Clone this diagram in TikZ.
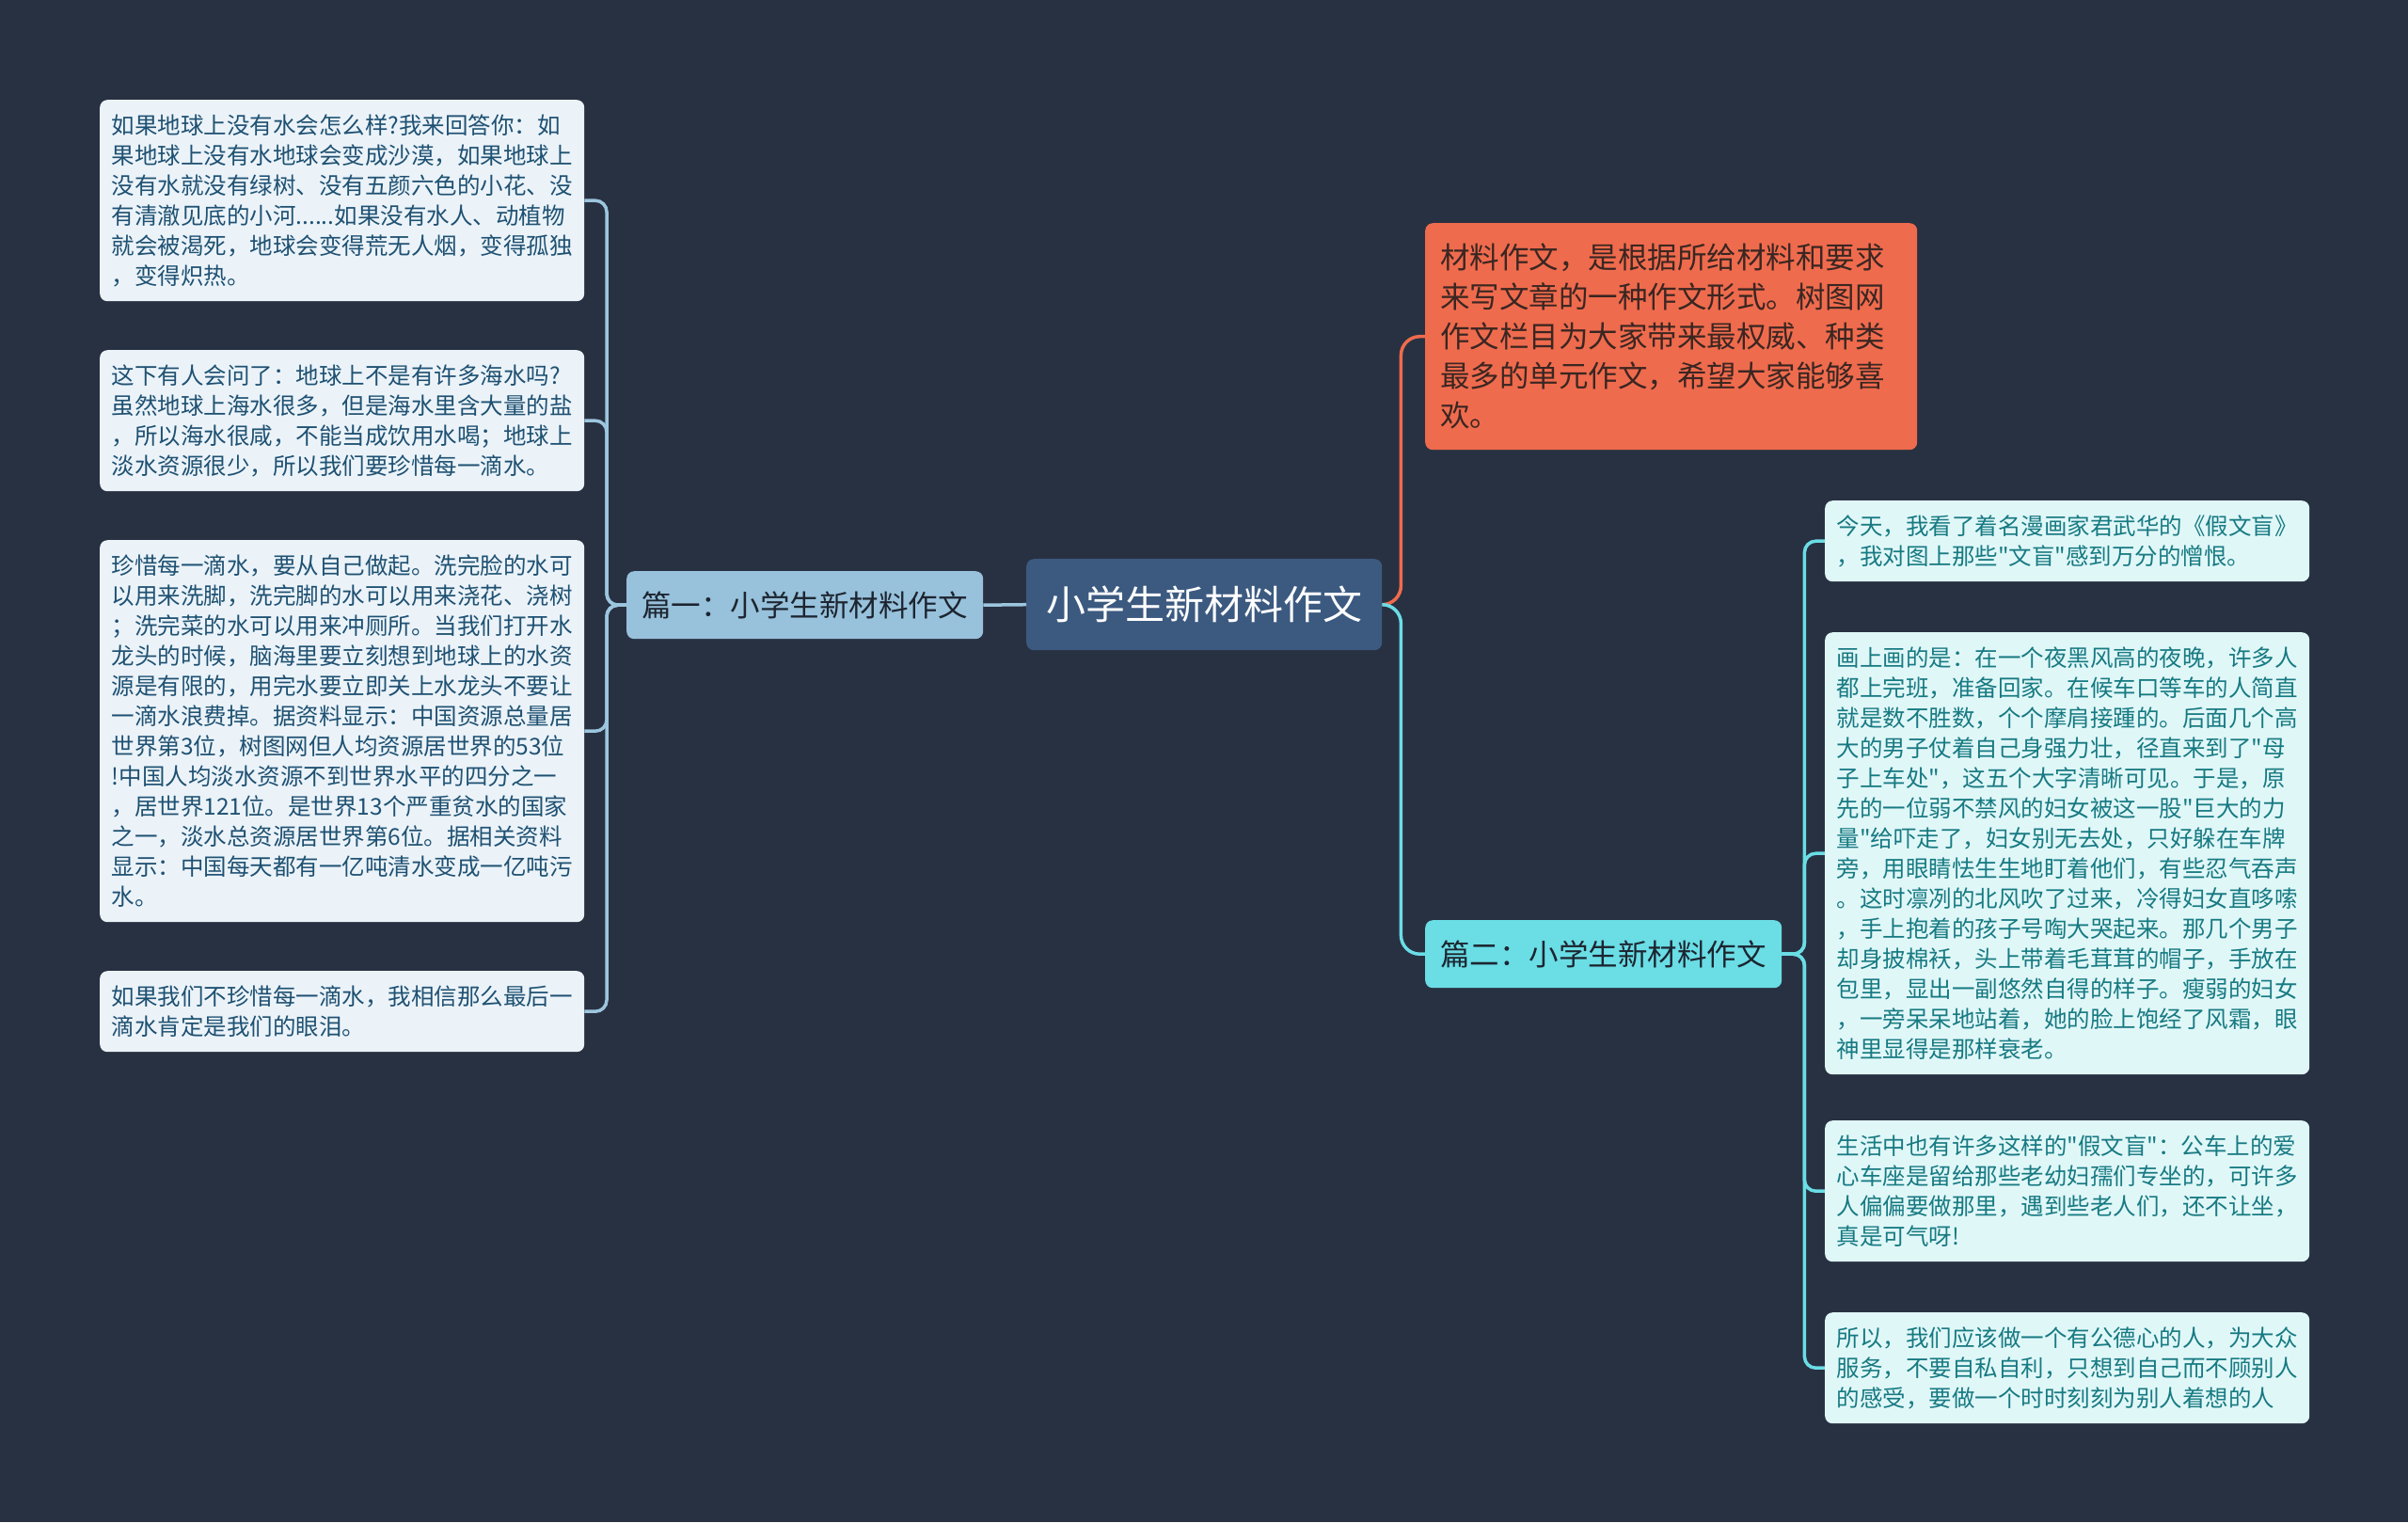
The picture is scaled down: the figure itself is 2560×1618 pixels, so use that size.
\documentclass[tikz,border=0pt]{standalone}
\usepackage{fontspec}
\newfontfamily\cjk{Noto Sans CJK SC}
\usetikzlibrary{calc}
\definecolor{bg}{HTML}{283142}
\definecolor{cfill}{HTML}{3C5A80}
\definecolor{p1fill}{HTML}{98C1DB}
\definecolor{p2fill}{HTML}{6ADDE5}
\definecolor{ofill}{HTML}{EF6B4D}
\definecolor{lfill}{HTML}{EBF3F9}
\definecolor{rfill}{HTML}{E0F7F8}
\definecolor{ltext}{HTML}{1F5172}
\definecolor{rtext}{HTML}{177A82}
\definecolor{otext}{HTML}{3A2622}
\definecolor{dtext}{HTML}{1C2530}
\definecolor{lline}{HTML}{9CC6DE}
\begin{document}
\begin{tikzpicture}[x=1pt,y=-1pt,
  leaf/.style={rounded corners=8pt, inner xsep=12.5pt, inner ysep=0pt, align=left, anchor=north west,
    text width=490pt, minimum width=515pt, font=\cjk\fontsize{24.5}{32}\selectfont},
  lleaf/.style={leaf, fill=lfill, text=ltext},
  rleaf/.style={leaf, fill=rfill, text=rtext},
  topic/.style={rounded corners=8pt, anchor=north west, inner sep=0pt, minimum width=379pt, minimum height=72pt,
    font=\cjk\fontsize{31.5}{40}\selectfont, text=dtext},
  lconn/.style={draw=lline, line width=3.5pt},
  cconn/.style={draw=p2fill, line width=3.5pt},
  oconn/.style={draw=ofill, line width=3.5pt}
]
\useasboundingbox[fill=bg] (0,0) rectangle (2560,1618);

% central topic
\node[rounded corners=8pt, anchor=north west, inner sep=0pt, fill=cfill, text=white,
  minimum width=378pt, minimum height=97pt, font=\cjk\fontsize{42}{50}\selectfont] (c) at (1091,594) {小学生新材料作文};

% main branches
\node[topic, fill=p1fill] (p1) at (666,607) {篇一：小学生新材料作文};
\node[topic, fill=p2fill] (p2) at (1515,978) {篇二：小学生新材料作文};
\node[rounded corners=8pt, anchor=north west, inner xsep=16pt, inner ysep=0pt, fill=ofill, text=otext,
  align=left, text width=491pt, minimum width=523pt, minimum height=241pt,
  font=\cjk\fontsize{31.5}{42}\selectfont] (m) at (1515,237)
  {材料作文，是根据所给材料和要求\\来写文章的一种作文形式。树图网\\作文栏目为大家带来最权威、种类\\最多的单元作文，希望大家能够喜\\欢。};

% left leaves
\node[lleaf, minimum height=214pt] (b1) at (106,106)
  {如果地球上没有水会怎么样?我来回答你：如\\果地球上没有水地球会变成沙漠，如果地球上\\没有水就没有绿树、没有五颜六色的小花、没\\有清澈见底的小河......如果没有水人、动植物\\就会被渴死，地球会变得荒无人烟，变得孤独\\，变得炽热。};
\node[lleaf, minimum height=150pt] (b2) at (106,372)
  {这下有人会问了：地球上不是有许多海水吗?\\虽然地球上海水很多，但是海水里含大量的盐\\，所以海水很咸，不能当成饮用水喝；地球上\\淡水资源很少，所以我们要珍惜每一滴水。};
\node[lleaf, minimum height=406pt] (b3) at (106,574)
  {珍惜每一滴水，要从自己做起。洗完脸的水可\\以用来洗脚，洗完脚的水可以用来浇花、浇树\\；洗完菜的水可以用来冲厕所。当我们打开水\\龙头的时候，脑海里要立刻想到地球上的水资\\源是有限的，用完水要立即关上水龙头不要让\\一滴水浪费掉。据资料显示：中国资源总量居\\世界第3位，树图网但人均资源居世界的53位\\!中国人均淡水资源不到世界水平的四分之一\\，居世界121位。是世界13个严重贫水的国家\\之一，淡水总资源居世界第6位。据相关资料\\显示：中国每天都有一亿吨清水变成一亿吨污\\水。};
\node[lleaf, minimum height=86pt] (b4) at (106,1032)
  {如果我们不珍惜每一滴水，我相信那么最后一\\滴水肯定是我们的眼泪。};

% right leaves
\node[rleaf, minimum height=86pt] (r1) at (1940,532)
  {今天，我看了着名漫画家君武华的《假文盲》\\，我对图上那些"文盲"感到万分的憎恨。};
\node[rleaf, minimum height=470pt] (r2) at (1940,672)
  {画上画的是：在一个夜黑风高的夜晚，许多人\\都上完班，准备回家。在候车口等车的人简直\\就是数不胜数，个个摩肩接踵的。后面几个高\\大的男子仗着自己身强力壮，径直来到了"母\\子上车处"，这五个大字清晰可见。于是，原\\先的一位弱不禁风的妇女被这一股"巨大的力\\量"给吓走了，妇女别无去处，只好躲在车牌\\旁，用眼睛怯生生地盯着他们，有些忍气吞声\\。这时凛冽的北风吹了过来，冷得妇女直哆嗦\\，手上抱着的孩子号啕大哭起来。那几个男子\\却身披棉袄，头上带着毛茸茸的帽子，手放在\\包里，显出一副悠然自得的样子。瘦弱的妇女\\，一旁呆呆地站着，她的脸上饱经了风霜，眼\\神里显得是那样衰老。};
\node[rleaf, minimum height=150pt] (r3) at (1940,1191)
  {生活中也有许多这样的"假文盲"：公车上的爱\\心车座是留给那些老幼妇孺们专坐的，可许多\\人偏偏要做那里，遇到些老人们，还不让坐，\\真是可气呀!};
\node[rleaf, minimum height=118pt] (r4) at (1940,1395)
  {所以，我们应该做一个有公德心的人，为大众\\服务，不要自私自利，只想到自己而不顾别人\\的感受，要做一个时时刻刻为别人着想的人};

% connectors
\draw[lconn] (c.west) -- (p1.east);
\foreach \t in {b1,b2,b3,b4}
  \draw[lconn, rounded corners=12pt] (p1.west) -- ++(-21,0) |- (\t.east);
\draw[oconn, rounded corners=20pt] (c.east) -- ++(20,0) |- (m.west);
\draw[cconn, rounded corners=20pt] (c.east) -- ++(20,0) |- (p2.west);
\foreach \t in {r1,r2,r3,r4}
  \draw[cconn, rounded corners=12pt] (p2.east) -- ++(24,0) |- (\t.west);
\end{tikzpicture}
\end{document}
